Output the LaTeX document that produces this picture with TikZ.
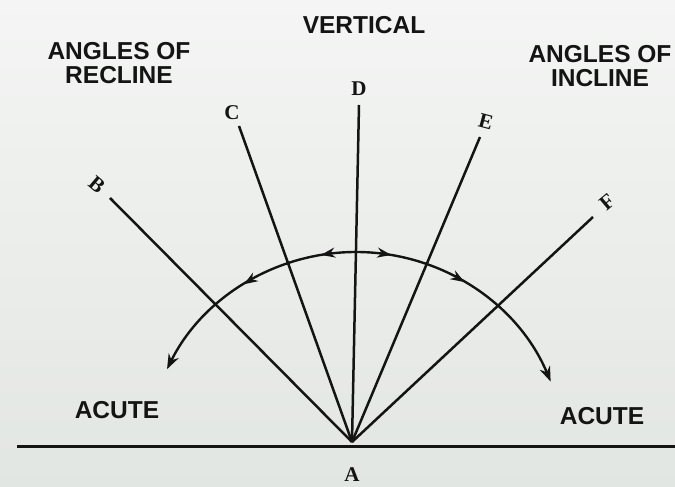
\documentclass[tikz,border=0pt]{standalone}
\usepackage{fontspec}
\setmainfont{Liberation Serif}
\setsansfont{Liberation Sans}
\usetikzlibrary{arrows.meta,decorations.markings,calc}
\definecolor{ink}{HTML}{141414}
\definecolor{bgtop}{HTML}{F4F5F4}
\definecolor{bgbot}{HTML}{E2E6E2}
\begin{document}
\begin{tikzpicture}[x=1pt,y=1pt,
  heading/.style={font=\sffamily\bfseries\fontsize{24.5}{24}\selectfont, text=ink, align=center, inner sep=0pt},
  letter/.style={font=\rmfamily\bfseries\fontsize{21}{22}\selectfont, text=ink, inner sep=0pt},
  ray/.style={draw=ink, line width=2.5pt},
  twotips/.style 2 args={decoration={markings,
      mark=at position #1 with {\arrow{Stealth[length=14pt,width=10pt]}},
      mark=at position #2 with {\arrow{Stealth[length=14pt,width=10pt]}}}, postaction={decorate}},
]
\shade[top color=bgtop, bottom color=bgbot] (0,0) rectangle (675,487);
\useasboundingbox (0,0) rectangle (675,487);

% points
\coordinate (apex) at (352,45);
\coordinate (Bt) at (110,289);
\coordinate (Ct) at (239,361);
\coordinate (Dt) at (359,382);
\coordinate (Et) at (480,350);
\coordinate (Ft) at (593,270);
\coordinate (L0) at (17,40);
\coordinate (L1) at (675,40);
\coordinate (O) at (356,24);
\coordinate (top) at ($(O)+(90:211)$);

% ground line
\draw[draw=ink, line width=3pt] (L0) -- (L1);

% rays
\foreach \p in {Bt,Ct,Dt,Et,Ft} \draw[ray] (apex) -- (\p);

% arc with arrows
\draw[ray, line width=2.4pt, -{Stealth[length=15pt,width=11pt]}, twotips={0.15}{0.505}]
  (top) arc[start angle=90, end angle=153.6, radius=211];
\draw[ray, line width=2.4pt, -{Stealth[length=15pt,width=11pt]}, twotips={0.143}{0.46}]
  (top) arc[start angle=90, end angle=22.7, radius=211];

% letter labels
\node[letter] (A) at (352,12) {A};
\node[letter, rotate=-40] (B) at (97,302) {B};
\node[letter] (C) at (232,374) {C};
\node[letter] (D) at (359,398) {D};
\node[letter, rotate=-15] (E) at (486,365) {E};
\node[letter, rotate=40] (F) at (607,285) {F};

% headings
\node[heading] (vert) at (364,462) {VERTICAL};
\node[heading] (recl) at (119,424) {ANGLES OF\\RECLINE};
\node[heading] (incl) at (600,421) {ANGLES OF\\INCLINE};
\node[heading] (acl) at (117,77) {ACUTE};
\node[heading] (acr) at (602,71) {ACUTE};
\end{tikzpicture}
\end{document}
